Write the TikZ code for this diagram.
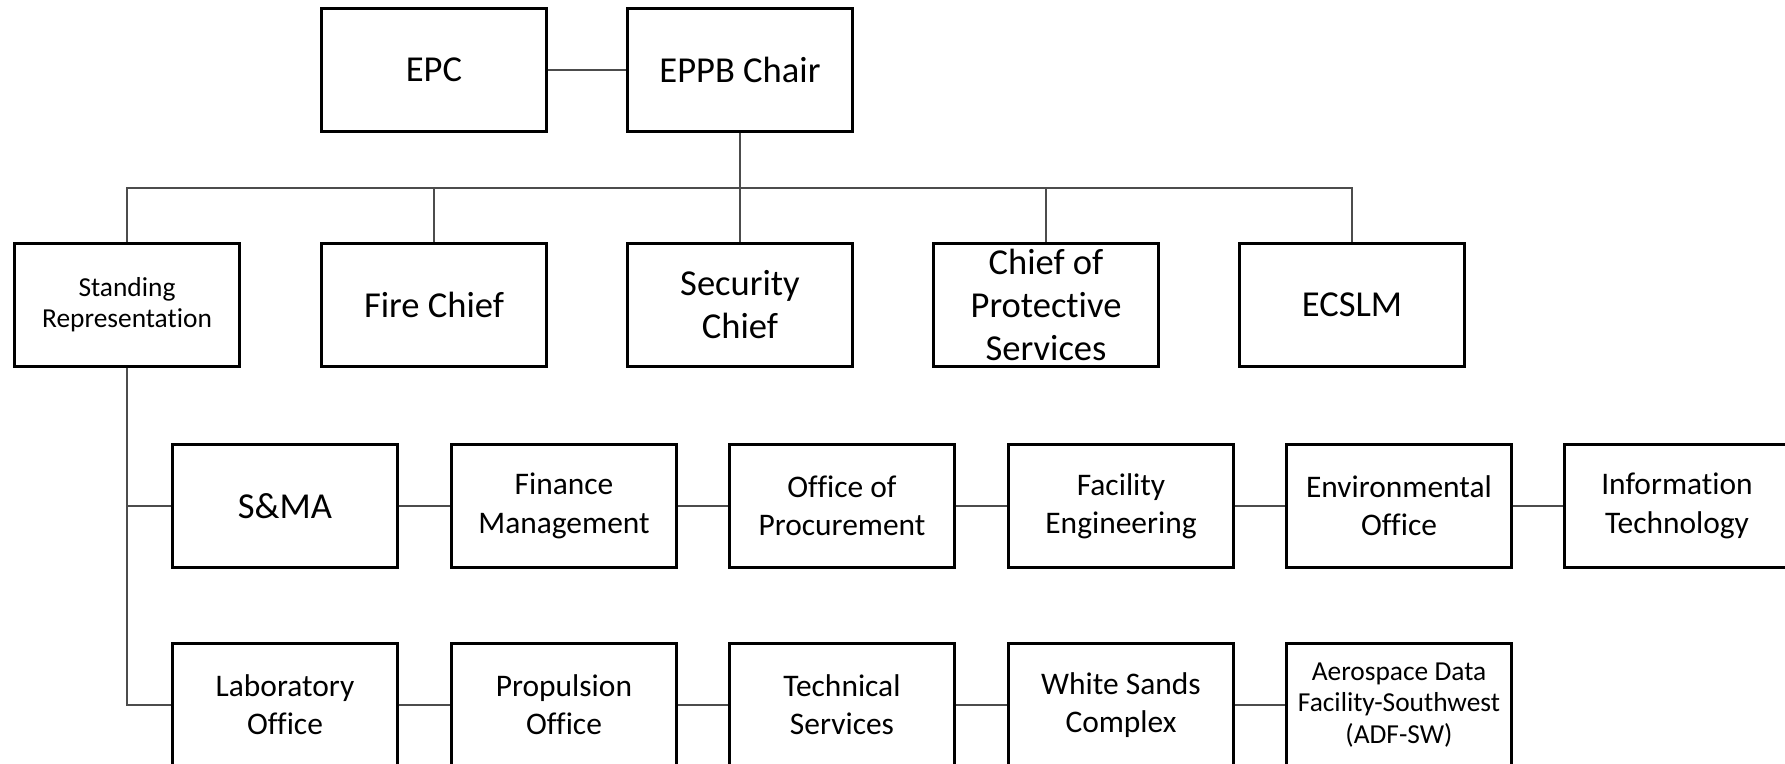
\documentclass[tikz,border=0pt]{standalone}
\usepackage{fontspec}
\setmainfont{Carlito}[Ligatures=NoCommon]
\usepackage{tikz}
\usetikzlibrary{positioning}

\begin{document}
\begin{tikzpicture}[x=0.02cm,y=-0.02cm,
        box/.style={draw,line width=1.2pt,minimum width=4.5cm,minimum height=2.46cm,inner sep=0pt,align=center},
        big/.style={font=\fontsize{20.8}{24.5}\selectfont},
        mid/.style={font=\fontsize{17.9}{21.8}\selectfont},
        small/.style={font=\fontsize{15.6}{17.8}\selectfont},
        link/.style={draw=black!70,line width=0.8pt}]
        \useasboundingbox (0,0) rectangle (1785,764);
        \clip (0,0) rectangle (1785,764);

        \coordinate (A) at (434,70);
        \coordinate (B) at (740,70);

        \node[box,big] (epc) at (A) {EPC};
        \node[box,big] (chair) at (B) {EPPB Chair};
        \draw[link] (epc) -- (chair);

        %############################################

        \coordinate (S) at (127,305);
        \coordinate (F) at (434,305);
        \coordinate (C) at (740,305);
        \coordinate (P) at (1046,305);
        \coordinate (E) at (1352,305);
        \coordinate (bus) at (740,188);

        \node[box,small] (stand) at (S) {Standing\\Representation};
        \node[box,big] (fire) at (F) {Fire Chief};
        \node[box,big] (sec) at (C) {Security\\Chief};
        \node[box,big] (prot) at (P) {Chief of\\Protective\\Services};
        \node[box,big] (ecslm) at (E) {ECSLM};

        \draw[link] (chair) -- (bus);
        \draw[link] (bus) -| (stand);
        \draw[link] (bus) -| (fire);
        \draw[link] (bus) -- (sec);
        \draw[link] (bus) -| (prot);
        \draw[link] (bus) -| (ecslm);

        %############################################

        \coordinate (R1) at (285,506);
        \coordinate (R2) at (564,506);
        \coordinate (R3) at (842,506);
        \coordinate (R4) at (1121,506);
        \coordinate (R5) at (1399,506);
        \coordinate (R6) at (1677,506);

        \node[box,big] (sma) at (R1) {S\&MA};
        \node[box,mid] (fin) at (R2) {Finance\\Management};
        \node[box,mid] (proc) at (R3) {Office of\\Procurement};
        \node[box,mid] (fac) at (R4) {Facility\\Engineering};
        \node[box,mid] (env) at (R5) {Environmental\\Office};
        \node[box,mid] (it) at (R6) {Information\\Technology};

        \draw[link] (stand) |- (sma);
        \draw[link] (sma) -- (fin);
        \draw[link] (fin) -- (proc);
        \draw[link] (proc) -- (fac);
        \draw[link] (fac) -- (env);
        \draw[link] (env) -- (it);

        %############################################

        \coordinate (L1) at (285,705);
        \coordinate (L2) at (564,705);
        \coordinate (L3) at (842,705);
        \coordinate (L4) at (1121,705);
        \coordinate (L5) at (1399,705);

        \node[box,mid] (lab) at (L1) {Laboratory\\Office};
        \node[box,mid] (prop) at (L2) {Propulsion\\Office};
        \node[box,mid] (tech) at (L3) {Technical\\Services};
        \node[box,mid] (ws) at (L4) {White Sands\\Complex};
        \node[box,small] (adf) at (L5) {Aerospace Data\\Facility-Southwest\\(ADF-SW)};

        \draw[link] (stand) |- (lab);
        \draw[link] (lab) -- (prop);
        \draw[link] (prop) -- (tech);
        \draw[link] (tech) -- (ws);
        \draw[link] (ws) -- (adf);
    \end{tikzpicture}
\end{document}
